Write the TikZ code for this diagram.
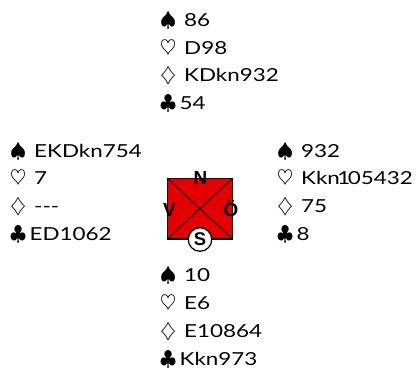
\documentclass[tikz,border=0pt]{standalone}
\usepackage{fontspec}
\setmainfont{Lato}
\newfontfamily\handfont[FakeStretch=1.25]{Lato}
\newfontfamily\labfont{Liberation Sans}
\definecolor{boxred}{RGB}{228,0,0}
\newcommand{\suitsym}[2]{\makebox[#1bp][l]{\fontsize{20.74}{24}\selectfont$#2$}}
\newcommand{\SP}{\suitsym{24}{\spadesuit}}
\newcommand{\HE}{\suitsym{24}{\heartsuit}}
\newcommand{\DI}{\suitsym{24}{\diamondsuit}}
\newcommand{\CL}{\suitsym{19.5}{\clubsuit}}
\newcommand{\narrowone}{\makebox[8bp]{1}}
\begin{document}
\begin{tikzpicture}[x=1bp,y=-1bp,
  hand/.style={anchor=base west, inner sep=0pt, font=\handfont\fontsize{18}{22}\selectfont},
  dirlab/.style={anchor=base, inner sep=0pt, font=\labfont\bfseries\fontsize{19}{21}\selectfont},
  seat/.style={circle, draw=black, line width=1.2bp, fill=white, minimum size=23.5bp, inner sep=0pt, font=\labfont\bfseries\fontsize{18.5}{20}\selectfont}]
\useasboundingbox (0,0) rectangle (416,385);
% North
\node[hand] (n1) at (160,26.5) {\SP 86};
\node[hand] (n2) at (160,54.2) {\HE D98};
\node[hand] (n3) at (160,81.9) {\DI KDkn932};
\node[hand] (n4) at (160,109.6) {\CL 54};
% West
\node[hand] (w1) at (10,157) {\SP EKDkn754};
\node[hand] (w2) at (10,184.7) {\HE 7};
\node[hand] (w3) at (10,212.4) {\DI -{}-{}-};
\node[hand] (w4) at (10,240.1) {\CL ED1062};
% East
\node[hand] (e1) at (277,157) {\SP 932};
\node[hand] (e2) at (277,184.7) {\HE Kkn\narrowone05432};
\node[hand] (e3) at (277,212.4) {\DI 75};
\node[hand] (e4) at (277,240.1) {\CL 8};
% South
\node[hand] (s1) at (160,281.7) {\SP 10};
\node[hand] (s2) at (160,309.5) {\HE E6};
\node[hand] (s3) at (160,337.3) {\DI E10864};
\node[hand] (s4) at (160,365.1) {\CL Kkn973};
% compass
\fill[boxred] (167.5,178.3) rectangle (232.7,239);
\draw[line width=0.8bp] (167.5,178.3) -- (232.7,239);
\draw[line width=0.8bp] (232.7,178.3) -- (167.5,239);
\draw[line width=1.5bp] (167.5,178.3) rectangle (232.7,239);
\node[dirlab] (N) at (200.5,184) {N};
\node[dirlab] (V) at (169.5,216.7) {V};
\node[dirlab] (O) at (231,216.7) {Ö};
\node[seat] (S) at (200,239.5) {S};
\end{tikzpicture}
\end{document}
